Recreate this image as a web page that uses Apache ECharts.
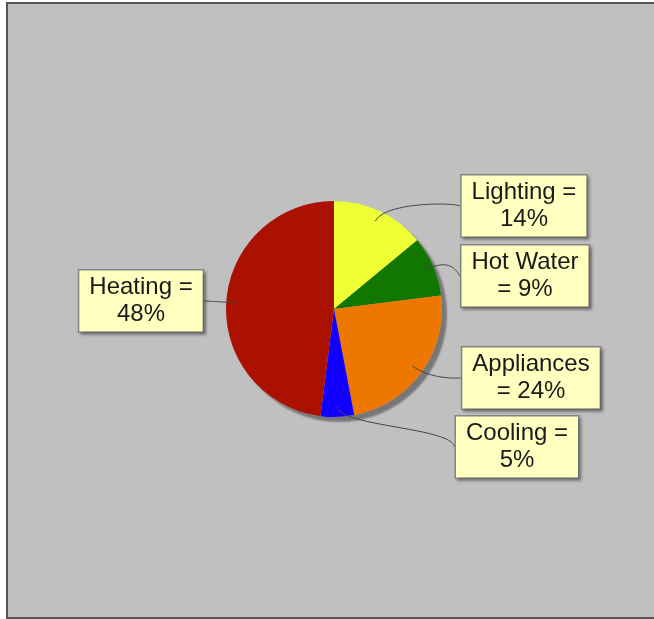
<!DOCTYPE html>
<html>
<head>
<meta charset="utf-8">
<script src="https://cdn.jsdelivr.net/npm/echarts@6/dist/echarts.min.js"></script>
<style>
  html, body { margin: 0; padding: 0; background: #fff; }
  #panel {
    position: absolute; left: 6px; top: 2px;
    width: 660px; height: 613px;
    border: 2px solid #555; background: #c0c0c0;
  }
  #chart { position: absolute; left: 0; top: 0; width: 654px; height: 619px; }
</style>
</head>
<body>
<div id="panel"></div>
<div id="chart"></div>
<script>
const categories = ["Lighting", "Hot Water", "Appliances", "Cooling", "Heating"];
const shares = [14, 9, 24, 5, 48];
const sliceColors = ["#EEFF33", "#117700", "#EE7700", "#1100FF", "#AA1100"];

// where each label box sits (centre)
const labelCenters = [[524, 206], [525, 276], [531, 378], [517, 447], [141, 301]];

const pieCenter = [334, 309];
const pieRadius = 108;
const linkRadius = 97; // leader line starts inside the slice
const elbowRadius = 118;
const labelFont = '24px "Liberation Sans"';
const wrapWidth = 122;

// greedy word wrap, like the original label boxes
const ctx = document.createElement("canvas").getContext("2d");
ctx.font = labelFont;
function wrapText(str) {
  const words = str.split(" ");
  const lines = [];
  let cur = "";
  words.forEach((w) => {
    const test = cur ? cur + " " + w : w;
    if (cur && ctx.measureText(test).width > wrapWidth) {
      lines.push(cur);
      cur = w;
    } else {
      cur = test;
    }
  });
  lines.push(cur);
  return lines.join("\n");
}

// cubic leader line: label edge -> (anchorX, elbowY) -> elbow -> link point
function cubicPoints(p0, p1, p2, p3) {
  const pts = [];
  for (let i = 0; i <= 24; i++) {
    const t = i / 24, u = 1 - t;
    pts.push([
      u * u * u * p0[0] + 3 * u * u * t * p1[0] + 3 * u * t * t * p2[0] + t * t * t * p3[0],
      u * u * u * p0[1] + 3 * u * u * t * p1[1] + 3 * u * t * t * p2[1] + t * t * t * p3[1],
    ]);
  }
  return pts;
}

const pieData = categories.map((name, i) => ({
  name,
  value: shares[i],
  itemStyle: { color: sliceColors[i] },
}));

const chart = echarts.init(document.getElementById("chart"));
chart.setOption({
  backgroundColor: "transparent",
  animation: false,
  series: [
    {
      // drop shadow under the pie
      type: "pie",
      z: 1,
      silent: true,
      center: pieCenter,
      radius: pieRadius,
      label: { show: false },
      labelLine: { show: false },
      itemStyle: {
        color: "#b0b0b0",
        borderWidth: 0,
        shadowColor: "rgba(0,0,0,0.38)",
        shadowBlur: 2,
        shadowOffsetX: 5,
        shadowOffsetY: 5,
      },
      data: [{ value: 1 }],
    },
    {
      type: "pie",
      z: 2,
      silent: true,
      center: pieCenter,
      radius: pieRadius,
      startAngle: 90,
      clockwise: true,
      label: { show: false },
      labelLine: { show: false },
      itemStyle: { borderWidth: 0 },
      data: pieData,
    },
    {
      // same slices, invisible, carrying the labels above everything
      type: "pie",
      z: 3,
      silent: true,
      center: pieCenter,
      radius: pieRadius,
      startAngle: 90,
      clockwise: true,
      avoidLabelOverlap: false,
      itemStyle: { color: "rgba(0,0,0,0)", borderWidth: 0 },
      label: {
        show: true,
        position: "outside",
        formatter: (p) => wrapText(p.name + " = " + p.value + "%"),
        fontFamily: "Liberation Sans",
        fontSize: 24,
        lineHeight: 27,
        color: "#1a1a1a",
        align: "center",
        backgroundColor: "#FFFFC0",
        borderColor: "#858585",
        borderWidth: 1.5,
        padding: [4, 10, 3, 10],
        shadowColor: "rgba(0,0,0,0.3)",
        shadowBlur: 3,
        shadowOffsetX: 2,
        shadowOffsetY: 2,
      },
      labelLine: {
        show: true,
        length: 10,
        length2: 10,
        lineStyle: { color: "#444", width: 1 },
      },
      labelLayout: function (params) {
        const c = labelCenters[params.dataIndex];
        const w = params.labelRect.width;
        const edge = params.labelLinePoints[0];
        const dx = (edge[0] - pieCenter[0]) / pieRadius;
        const dy = (edge[1] - pieCenter[1]) / pieRadius;
        const onLeft = c[0] < pieCenter[0];
        const target = [onLeft ? c[0] + w / 2 : c[0] - w / 2, c[1]];
        const link = [pieCenter[0] + dx * linkRadius, pieCenter[1] + dy * linkRadius];
        const elbow = [pieCenter[0] + dx * elbowRadius, pieCenter[1] + dy * elbowRadius];
        const anchor = [pieCenter[0] + (onLeft ? -elbowRadius : elbowRadius), elbow[1]];
        return {
          x: c[0],
          y: c[1],
          align: "center",
          verticalAlign: "middle",
          labelLinePoints: cubicPoints(target, anchor, elbow, link),
        };
      },
      data: pieData.map((d) => ({ name: d.name, value: d.value })),
    },
  ],
});
</script>
</body>
</html>
